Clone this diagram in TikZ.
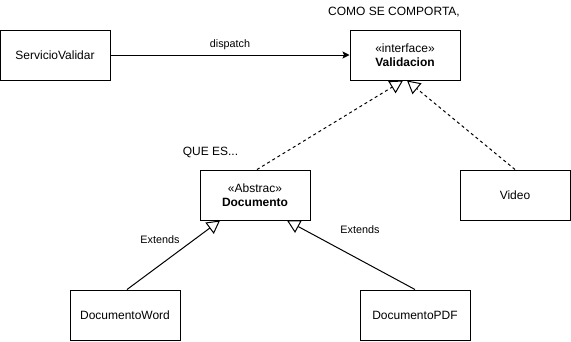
\documentclass[tikz,border=0pt]{standalone}
\usepackage{fontspec}
\setmainfont{Liberation Sans}
\usetikzlibrary{arrows.meta,calc}
\begin{document}
\begin{tikzpicture}[x=1pt,y=-1pt,
  every node/.style={font=\fontsize{12}{14.5}\selectfont},
  umlbox/.style={draw,line width=1pt,minimum width=110pt,minimum height=50pt,inner sep=0pt,align=center},
  conn/.style={line width=1pt},
  realize/.style={conn,dash pattern=on 3pt off 3pt,-{Triangle[open,length=13pt,width=14pt]}},
  extends/.style={conn,-{Triangle[open,length=13pt,width=14pt]}},
  call/.style={conn,-{Stealth[length=7pt,width=7pt,inset=1.5pt]}},
  lbl/.style={inner sep=0pt,font=\fontsize{10.8}{13}\selectfont},
  note/.style={inner sep=0pt,font=\fontsize{12}{14}\selectfont}]
\useasboundingbox (0,0) rectangle (571,341);

% classes
\node[umlbox] (serv) at (55,55) {ServicioValidar};
\node[umlbox] (val) at (405,55) {«interface»\\\textbf{Validacion}};
\node[umlbox] (doc) at (255,195) {«Abstrac»\\\textbf{Documento}};
\node[umlbox] (video) at (515,195) {Video};
\node[umlbox] (word) at (125,315) {DocumentoWord};
\node[umlbox] (pdf) at (415,315) {DocumentoPDF};

% free annotations
\node[note] (comoTxt) at (394,12) {COMO SE COMPORTA,};
\node[note] (queTxt) at (210.5,152) {QUE ES...};

% connectors
\draw[call] (serv.east) -- node[lbl,above=5pt] (dispTxt) {dispatch} (val.west);
\draw[realize] ($(doc.north)+(2,0)$) -- ($(val.south)+(-2,0)$);
\draw[realize] (video.north) -- ($(val.south)+(2,0)$);
\draw[extends] ($(word.north)+(2,0)$) -- ($(doc.south)+(-35,0)$);
\draw[extends] (pdf.north) -- ($(doc.south)+(32,0)$);
\node[lbl] (extW) at (160,240) {Extends};
\node[lbl] (extP) at (360,230) {Extends};
\end{tikzpicture}
\end{document}
